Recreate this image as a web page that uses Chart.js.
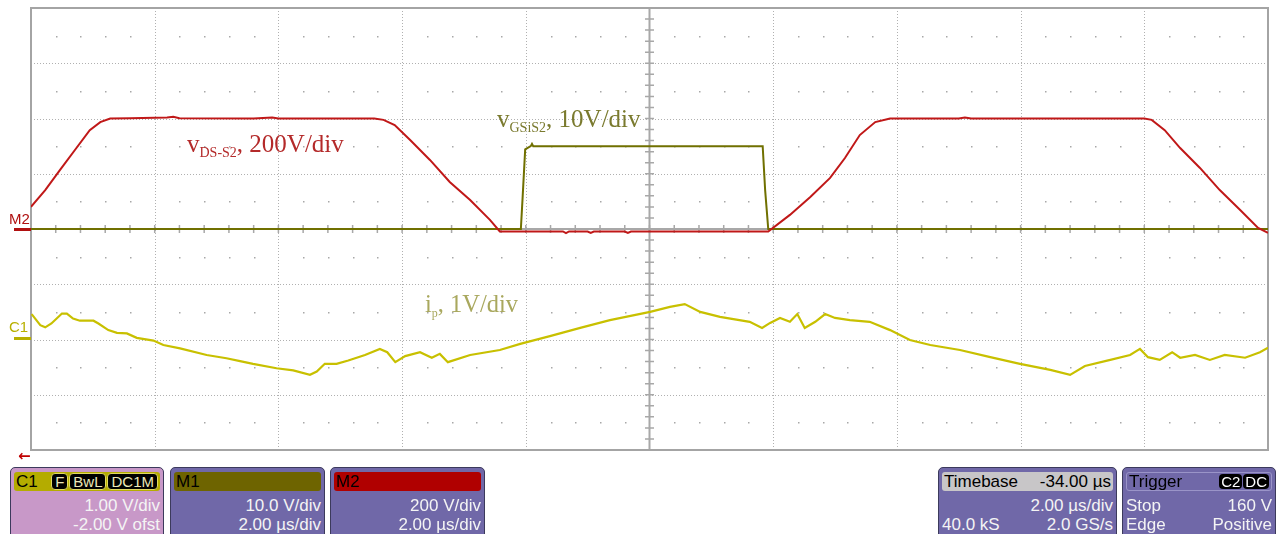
<!DOCTYPE html>
<html lang="en">
<head>
<meta charset="UTF-8">
<title>Scope capture</title>
<style>
  body { margin: 0; background: #fff; }
  #wrap { position: relative; width: 1282px; height: 534px; overflow: hidden; font-family: "Liberation Sans", Arial, sans-serif; }
  #scope { position: absolute; left: 0; top: 0; }
  .lbl { position: absolute; font-family: "Liberation Serif", "Times New Roman", serif; white-space: nowrap; line-height: 1; }
  .lbl sub { font-size: 14px; vertical-align: -5px; line-height: 0; }
  .mk { position: absolute; font-size: 15px; line-height: 15px; }
  .bar { position: absolute; height: 3px; width: 17px; left: 14px; }
  .panel { position: absolute; top: 467px; height: 72px; box-sizing: border-box; border: 1px solid #3c3a5c; border-radius: 5px; background: #7068a8; color: #f4f4f4; font-size: 17px; }
  .head { position: absolute; left: 3px; right: 3px; top: 4px; height: 19px; line-height: 19px; border-radius: 3px; color: #000; padding: 0 2px; display: flex; justify-content: space-between; align-items: center; }
  .row { position: absolute; left: 3px; right: 3px; line-height: 18px; display: flex; justify-content: space-between; }
  .r1 { top: 29px; } .r2 { top: 48px; }
  .badge { display: inline-block; background: #000; border-radius: 4px; font-size: 15px; line-height: 15px; padding: 0 2px; margin-left: 1px; }
  .cb { border: 1px solid #e0d860; color: #ece8b8; padding: 0 3px; }
</style>
</head>
<body>
<div id="wrap">
  <canvas id="scope" width="1282" height="534"></canvas>

  <div class="lbl" style="left:187px; top:131px; font-size:25px; color:#b42a2a;">v<sub>DS-S2</sub>, 200V/div</div>
  <div class="lbl" style="left:497px; top:106px; font-size:25px; color:#7a7a2e;">v<sub>GSiS2</sub>, 10V/div</div>
  <div class="lbl" style="left:425px; top:292px; font-size:24.5px; color:#a9a85e;">i<sub style="font-size:12px">p</sub>, 1V/div</div>

  <div class="mk" style="left:9px; top:211px; color:#b01010;">M2</div>
  <div class="bar" style="top:228px; background:#b01010;"></div>
  <div class="mk" style="left:9px; top:319px; color:#b8b000;">C1</div>
  <div class="bar" style="top:337px; background:#b8b000;"></div>
  <div class="mk" style="left:18px; top:449px; color:#c00000; font-weight:bold; font-size:15px; font-family:'DejaVu Sans', sans-serif;">&larr;</div>

  <div class="panel" style="left:10px; width:154px; background:#c898c8;">
    <div class="head" style="background:#b4ac00;"><span>C1</span><span><span class="badge cb">F</span><span class="badge cb">BwL</span><span class="badge cb">DC1M</span></span></div>
    <div class="row r1"><span></span><span>1.00 V/div</span></div>
    <div class="row r2"><span></span><span>-2.00 V ofst</span></div>
  </div>
  <div class="panel" style="left:170px; width:155px;">
    <div class="head" style="background:#6e6400;"><span>M1</span><span></span></div>
    <div class="row r1"><span></span><span>10.0 V/div</span></div>
    <div class="row r2"><span></span><span>2.00 µs/div</span></div>
  </div>
  <div class="panel" style="left:330px; width:155px;">
    <div class="head" style="background:#b00000;"><span>M2</span><span></span></div>
    <div class="row r1"><span></span><span>200 V/div</span></div>
    <div class="row r2"><span></span><span>2.00 µs/div</span></div>
  </div>
  <div class="panel" style="left:938px; width:179px;">
    <div class="head" style="background:#c8c6c8;"><span>Timebase</span><span>-34.00 µs</span></div>
    <div class="row r1"><span></span><span>2.00 µs/div</span></div>
    <div class="row r2"><span>40.0 kS</span><span>2.0 GS/s</span></div>
  </div>
  <div class="panel" style="left:1122px; width:154px;">
    <div class="head" style="box-sizing:border-box; border:1px solid #9a94c8;"><span>Trigger</span><span><span class="badge" style="color:#fff">C2</span><span class="badge" style="color:#fff">DC</span></span></div>
    <div class="row r1"><span>Stop</span><span>160 V</span></div>
    <div class="row r2"><span>Edge</span><span>Positive</span></div>
  </div>
</div>

<script src="https://cdn.jsdelivr.net/npm/chart.js"></script>
<script>
    // time in µs (2 µs/div, 10 div), values in volts of each channel
    const vdsTime  = [0, 0.23, 0.47, 0.71, 0.95, 1.12, 1.28, 1.6, 2.2, 2.3, 2.4, 3.6, 3.9, 4.0, 5.55, 5.7, 5.88, 6.13, 6.45, 6.77, 7.1, 7.42, 7.58,
                      8.6, 8.65, 8.7, 9.0, 9.05, 9.1, 9.6, 9.65, 9.7, 11.92, 12.27, 12.6, 12.92, 13.16, 13.4, 13.65, 13.89,
                      15.0, 15.1, 15.2, 18.0, 18.12, 18.33, 18.58, 18.9, 19.22, 19.55, 19.84, 20];
    const vdsVolts = [80, 141, 214, 286, 358, 387, 400, 401, 404, 406, 401, 400, 404, 400, 400, 395, 376, 322, 250, 170, 105, 33, -9,
                      -9, -15, -9, -9, -14, -9, -9, -14, -9, -9, 51, 116, 185, 257, 340, 387, 400,
                      400, 404, 400, 400, 395, 358, 293, 221, 141, 69, 4, -14];

    const vgsTime  = [0, 7.92, 7.95, 7.99, 8.08, 8.1, 8.12, 11.83, 11.87, 11.92, 20];
    const vgsVolts = [0, 0, 6, 14.4, 15, 15.4, 15, 15, 7, 0, 0];

    const ipTime  = [0.01, 0.15, 0.23, 0.33, 0.5, 0.58, 0.68, 0.79, 1.01, 1.09, 1.25, 1.39, 1.55, 1.71, 1.98, 2.14, 2.41, 2.84, 3.16, 3.38,
                     3.59, 3.97, 4.24, 4.51, 4.62, 4.75, 4.94, 5.13, 5.4, 5.64, 5.76, 5.89, 6.05, 6.29, 6.48, 6.61, 6.74, 7.1, 7.58, 7.91,
                     8.39, 8.88, 9.36, 10.01, 10.33, 10.57, 10.82, 11.14, 11.62, 11.82, 11.95, 12.11, 12.27, 12.39, 12.51, 12.68, 12.84,
                     13.0, 13.24, 13.56, 13.89, 14.21, 14.54, 15.02, 15.51, 15.99, 16.48, 16.8, 17.04, 17.45, 17.77, 17.93, 18.06, 18.25,
                     18.45, 18.58, 18.82, 19.06, 19.3, 19.63, 19.87, 20];
    const ipVolts = [0.46, 0.26, 0.22, 0.29, 0.47, 0.47, 0.38, 0.34, 0.34, 0.29, 0.17, 0.12, 0.11, 0.03, -0.02, -0.1, -0.16, -0.28, -0.34, -0.39,
                     -0.44, -0.52, -0.56, -0.64, -0.58, -0.44, -0.44, -0.38, -0.28, -0.17, -0.23, -0.41, -0.3, -0.23, -0.33, -0.26, -0.41, -0.28, -0.19, -0.08,
                     0.06, 0.21, 0.35, 0.5, 0.59, 0.64, 0.5, 0.41, 0.32, 0.21, 0.3, 0.39, 0.32, 0.46, 0.21, 0.32, 0.46,
                     0.39, 0.35, 0.32, 0.17, -0.01, -0.1, -0.19, -0.32, -0.44, -0.55, -0.64, -0.48, -0.37, -0.28, -0.17, -0.32, -0.37,
                     -0.23, -0.33, -0.28, -0.37, -0.28, -0.33, -0.23, -0.15];

    const toPoints = (xs, ys) => xs.map((x, i) => ({x: x, y: ys[i]}));

    // graticule: dotted divisions, half-division dots, centre cross with ticks, frame
    const graticule = {
        id: 'graticule',
        beforeDatasetsDraw(chart) {
            const ctx = chart.ctx;
            const a = chart.chartArea;
            const sx = chart.scales.x, sy = chart.scales.yM2;
            const xs = [], ys = [];
            for (let i = 0; i <= 10; i++) xs.push(sx.getPixelForValue(i * 2));
            for (let j = 0; j <= 8; j++) ys.push(sy.getPixelForValue(800 - j * 200));
            const dx = (xs[10] - xs[0]) / 10, dy = (ys[8] - ys[0]) / 8;
            ctx.save();
            ctx.strokeStyle = '#b0b0b0';
            ctx.lineWidth = 1;
            ctx.setLineDash([1, 2]);
            for (let i = 1; i < 10; i++) {
                if (i === 5) continue;
                ctx.beginPath();
                ctx.moveTo(Math.round(xs[i]) + 0.5, a.top);
                ctx.lineTo(Math.round(xs[i]) + 0.5, a.bottom);
                ctx.stroke();
            }
            for (let j = 1; j < 8; j++) {
                if (j === 4) continue;
                ctx.beginPath();
                ctx.moveTo(a.left, Math.round(ys[j]) + 0.5);
                ctx.lineTo(a.right, Math.round(ys[j]) + 0.5);
                ctx.stroke();
            }
            ctx.setLineDash([]);
            ctx.fillStyle = '#a8a8a8';
            for (let j = 0; j < 8; j++) {
                const y = Math.round(ys[0] + (j + 0.5) * dy);
                for (let k = 1; k < 50; k++) {
                    if (k % 5 === 0) continue;
                    ctx.fillRect(Math.round(xs[0] + k * dx / 5), y, 1.5, 1.5);
                }
            }
            // centre cross
            const cx = xs[5], cy = ys[4];
            ctx.strokeStyle = '#a8a8a8';
            ctx.lineWidth = 2;
            ctx.beginPath();
            ctx.moveTo(cx, a.top); ctx.lineTo(cx, a.bottom);
            ctx.moveTo(a.left, cy); ctx.lineTo(a.right, cy);
            ctx.stroke();
            ctx.lineWidth = 1.5;
            ctx.beginPath();
            for (let k = 1; k < 40; k++) {
                const y = ys[0] + k * dy / 5;
                ctx.moveTo(cx - 4.5, y); ctx.lineTo(cx + 4.5, y);
            }
            for (let k = 1; k < 50; k++) {
                const x = xs[0] + k * dx / 5;
                ctx.moveTo(x, cy - 4); ctx.lineTo(x, cy + 4);
            }
            ctx.stroke();
            // frame
            ctx.lineWidth = 2;
            ctx.strokeStyle = '#a4a4a4';
            ctx.strokeRect(a.left, a.top, a.right - a.left, a.bottom - a.top);
            ctx.restore();
        }
    };

    const chart = new Chart(document.getElementById('scope'), {
        type: 'line',
        data: {
            datasets: [
                {
                    label: 'vDS-S2',
                    data: toPoints(vdsTime, vdsVolts),
                    yAxisID: 'yM2',
                    borderColor: '#c01818',
                    borderWidth: 2,
                    order: 0
                },
                {
                    label: 'vGS-S2',
                    data: toPoints(vgsTime, vgsVolts),
                    yAxisID: 'yM1',
                    borderColor: '#707000',
                    borderWidth: 2,
                    order: 1
                },
                {
                    label: 'ip',
                    data: toPoints(ipTime, ipVolts),
                    yAxisID: 'yC1',
                    borderColor: '#c8c000',
                    borderWidth: 2.2,
                    order: 2
                }
            ]
        },
        options: {
            responsive: false,
            animation: false,
            devicePixelRatio: 1,
            layout: { padding: { left: 31, top: 8, right: 14, bottom: 84 } },
            elements: { point: { radius: 0 }, line: { tension: 0 } },
            plugins: { legend: { display: false }, tooltip: { enabled: false } },
            scales: {
                x: { type: 'linear', min: 0, max: 20, display: false },
                yM2: { type: 'linear', min: -800, max: 800, display: false },
                yM1: { type: 'linear', min: -40, max: 40, display: false },
                yC1: { type: 'linear', min: -2, max: 6, display: false }
            }
        },
        plugins: [graticule]
    });
</script>
</body>
</html>
